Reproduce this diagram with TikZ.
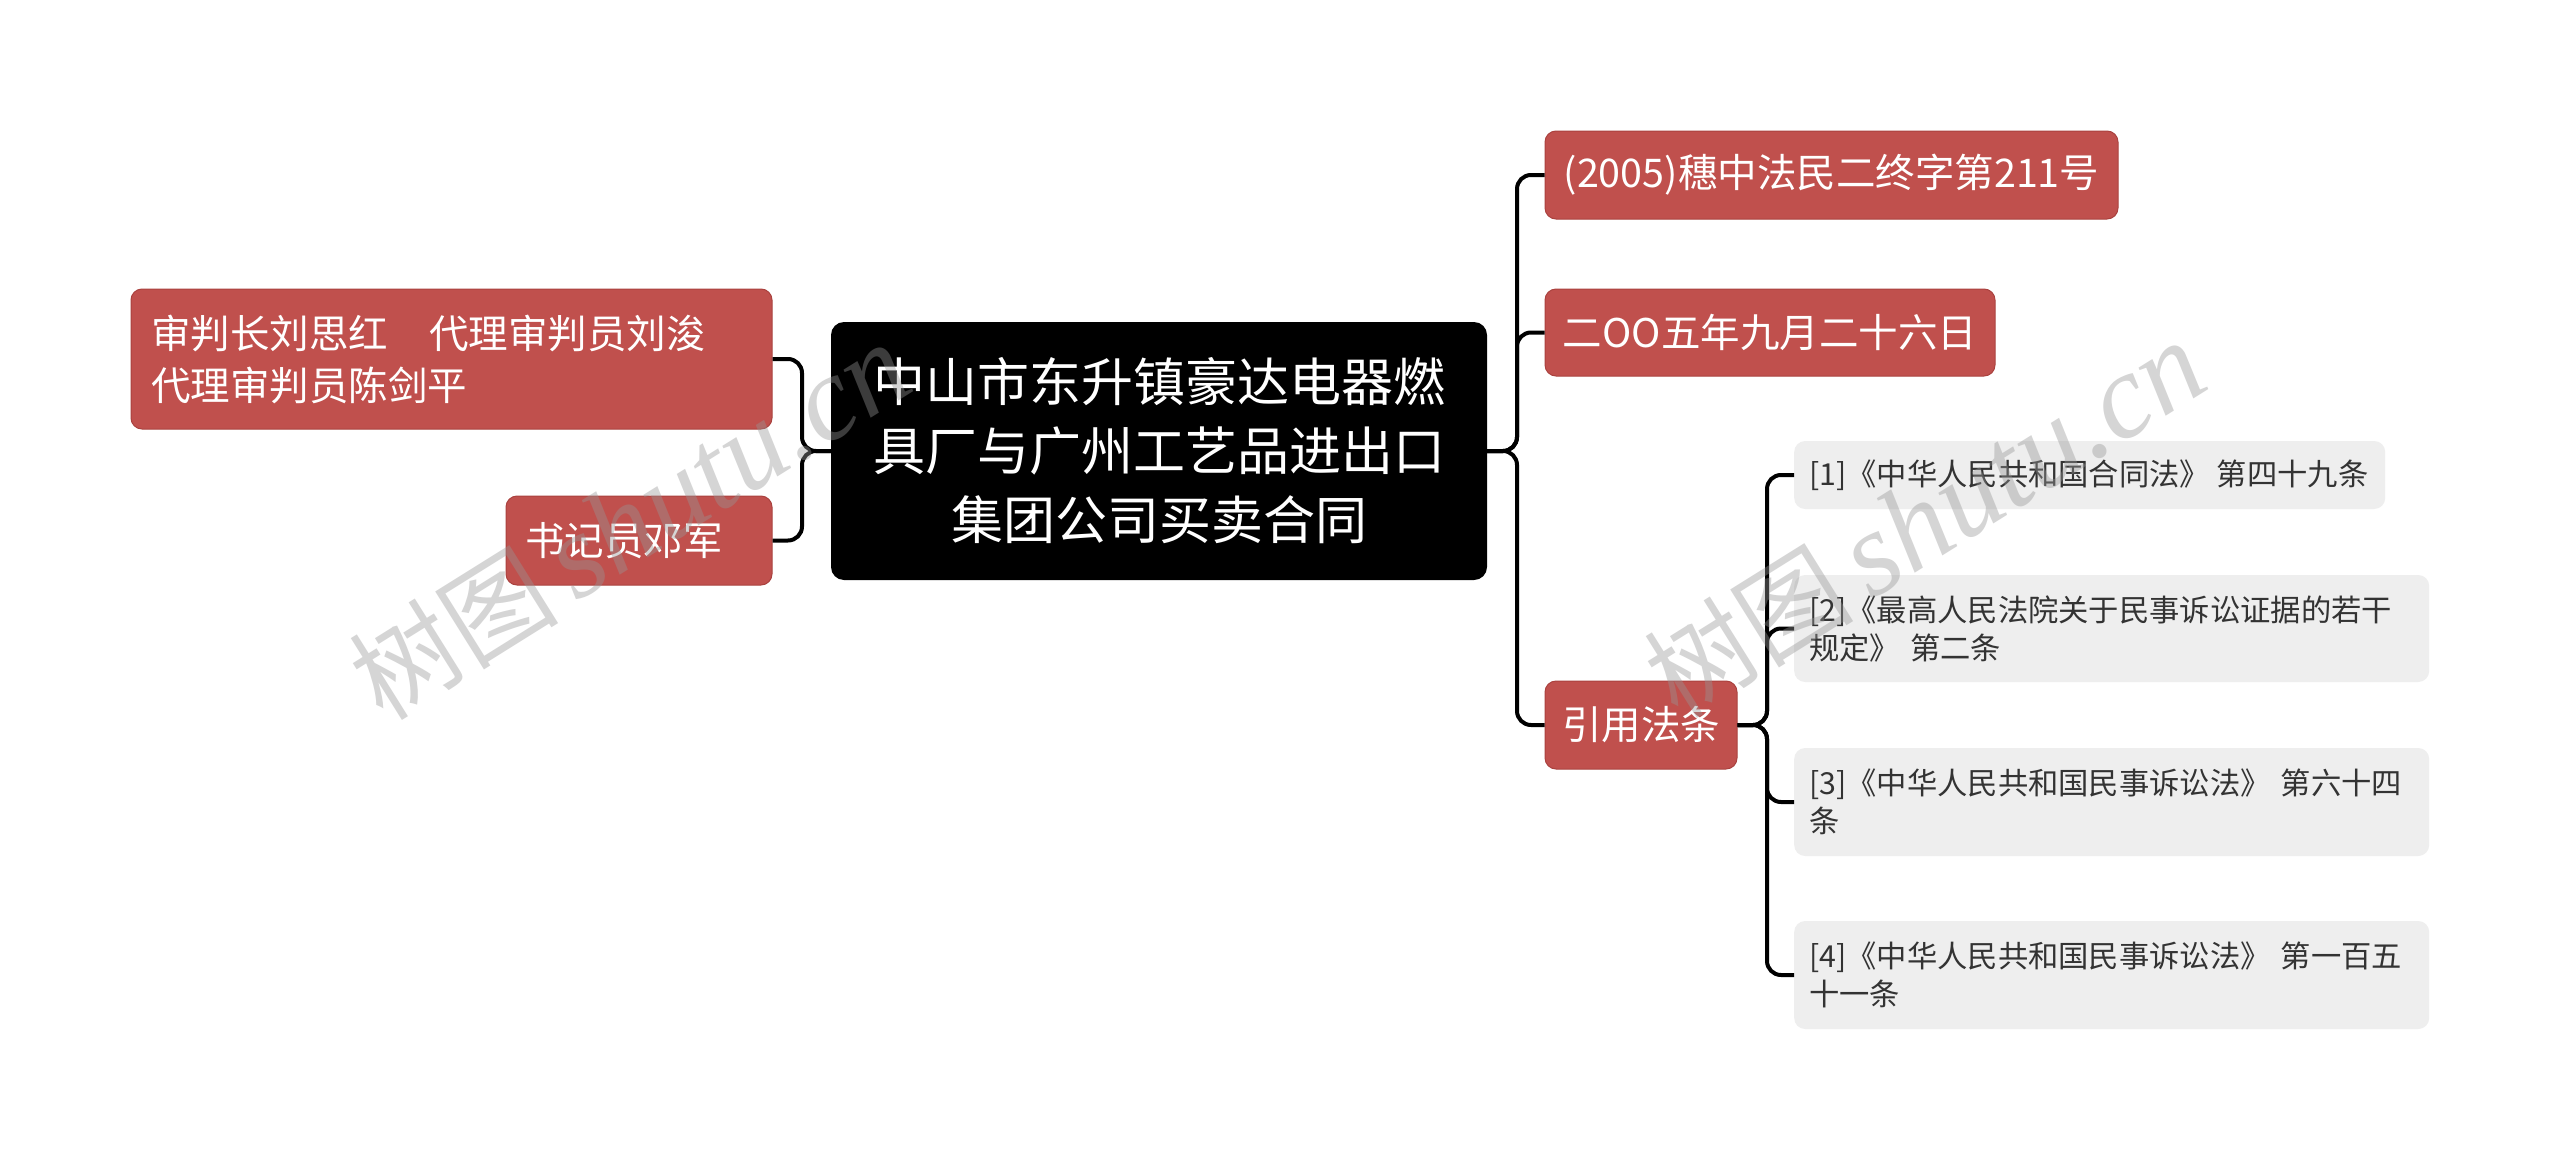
\documentclass[tikz,border=0pt]{standalone}
\usepackage{fontspec}
\newfontfamily\cjk{Noto Sans CJK SC}
\newfontfamily\wmserif{Liberation Serif}
\definecolor{redbg}{RGB}{192,80,77}
\definecolor{redln}{RGB}{170,66,63}
\definecolor{greybg}{RGB}{238,238,238}
\definecolor{greytx}{RGB}{51,51,51}
\definecolor{wmgrey}{RGB}{150,150,150}
\tikzset{
  redbox/.style={fill=redbg, draw=redln, line width=1pt, rounded corners=11pt, text=white,
    font=\cjk\fontsize{39.5}{52}\selectfont, inner sep=0pt, align=left},
  rootbox/.style={fill=black, rounded corners=13pt, text=white,
    font=\cjk\fontsize{52}{69}\selectfont, inner sep=0pt, align=center},
  greybox/.style={fill=greybg, rounded corners=11pt, text=greytx,
    font=\cjk\fontsize{30.3}{38}\selectfont, inner xsep=15pt, inner ysep=0pt, align=left, anchor=west},
  conn/.style={draw=black, line width=4pt, rounded corners=14pt},
  wmark/.style={text=wmgrey, opacity=0.4, rotate=32, inner sep=0pt}
}
\begin{document}
\begin{tikzpicture}[x=1pt,y=-1pt]
\useasboundingbox (0,0) rectangle (2560,1159);
\fill[white] (0,0) rectangle (2560,1159);

% root
\node[rootbox, minimum width=656pt, minimum height=258pt] (root) at (1159,451)
  {中山市东升镇豪达电器燃\\具厂与广州工艺品进出口\\集团公司买卖合同};

% left nodes
\node[redbox, minimum width=641pt, minimum height=140pt, text width=601pt, inner xsep=20pt] (l1) at (451.5,359)
  {审判长刘思红\hspace{1.05em}代理审判员刘浚\\代理审判员陈剑平};
\node[redbox, minimum width=266pt, minimum height=89pt, text width=228pt, inner xsep=19pt] (l2) at (639,540.5) {书记员邓军};

% right nodes
\node[redbox, minimum width=573pt, minimum height=88pt, align=center] (r1) at (1831.5,175) {(2005)穗中法民二终字第211号};
\node[redbox, minimum width=450pt, minimum height=87pt, align=center] (r2) at (1770,332.5) {二OO五年九月二十六日};
\node[redbox, minimum width=192pt, minimum height=88pt, align=center] (r3) at (1641,725) {引用法条};

% grey leaves
\node[greybox, minimum width=591pt, minimum height=68pt] (g1) at (1794,475) {\makebox[561pt][l]{[1]《中华人民共和国合同法》 第四十九条}};
\node[greybox, minimum width=635pt, minimum height=107pt, text width=605pt] (g2) at (1794,628.5) {[2]《最高人民法院关于民事诉讼证据的若干\\规定》 第二条};
\node[greybox, minimum width=635pt, minimum height=108pt, text width=605pt] (g3) at (1794,802) {[3]《中华人民共和国民事诉讼法》 第六十四\\条};
\node[greybox, minimum width=635pt, minimum height=108pt, text width=605pt] (g4) at (1794,975) {[4]《中华人民共和国民事诉讼法》 第一百五\\十一条};

% junctions
\coordinate (lj) at (802,451);
\coordinate (rj) at (1517,451);
\coordinate (gj) at (1767,725);

% connectors
\draw[conn] (root.west) -- (lj) |- (l1.east);
\draw[conn] (root.west) -- (lj) |- (l2.east);
\draw[conn] (root.east) -- (rj) |- (r1.west);
\draw[conn] (root.east) -- (rj) |- (r2.west);
\draw[conn] (root.east) -- (rj) |- (r3.west);
\draw[conn] (r3.east) -- (gj) |- (g1.west);
\draw[conn] (r3.east) -- (gj) |- (g2.west);
\draw[conn] (r3.east) -- (gj) |- (g3.west);
\draw[conn] (r3.east) -- (gj) |- (g4.west);

% watermarks
\node[wmark] (wm1) at (630,522) {\cjk\fontsize{105}{105}\selectfont 树图\,\wmserif\fontsize{120}{120}\selectfont\itshape shutu.cn};
\node[wmark] (wm2) at (1925,520) {\cjk\fontsize{105}{105}\selectfont 树图\,\wmserif\fontsize{120}{120}\selectfont\itshape shutu.cn};
\end{tikzpicture}
\end{document}
